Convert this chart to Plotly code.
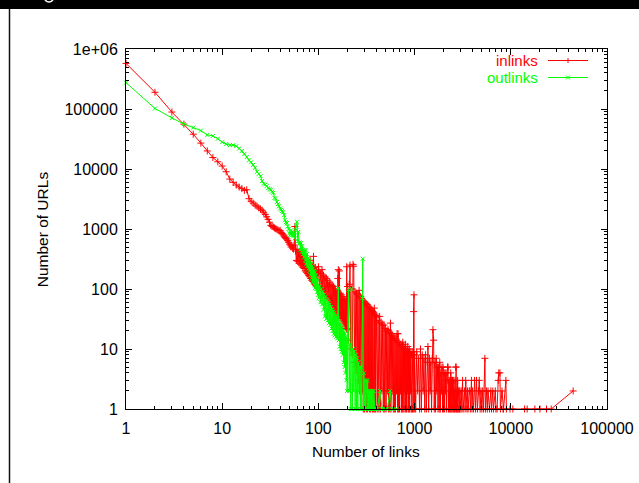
import plotly.graph_objects as go

# ---------------- data ----------------
# inlinks: number of URLs having a given number of inlinks
in_x_a = list(range(1, 101))
in_y_a = [575000, 190000, 89000, 56000, 38000, 27000, 20000, 15500, 13200, 11200,
          9000, 6800, 6000, 5400, 5000, 4700, 4400, 4500, 3200, 2900,
          2700, 2500, 2400, 2250, 2150, 2050, 1900, 1750, 1600, 1450,
          1300, 1150, 1100, 1080, 1040, 1010, 990, 960, 930, 950,
          880, 840, 800, 760, 720, 700, 680, 640, 600, 560,
          540, 500, 520, 480, 460, 540, 1100, 430, 300, 460,
          290, 400, 270, 420, 260, 380, 250, 350, 230, 330,
          220, 360, 200, 300, 190, 310, 180, 280, 170, 260,
          160, 300, 150, 240, 140, 250, 135, 220, 350, 130,
          210, 120, 230, 115, 200, 110, 190, 105, 180, 235]
in_x_b = list(range(101, 200, 2))
in_y_b = [200, 110, 180, 100, 210, 95, 170, 90, 160, 80,
          150, 75, 140, 110, 70, 130, 65, 120, 60, 115,
          55, 110, 50, 100, 45, 95, 42, 90, 40, 150,
          210, 38, 200, 36, 85, 34, 80, 32, 75, 30,
          70, 28, 68, 26, 65, 24, 62, 22, 235, 21]
in_x_c = list(range(201, 400, 4))
in_y_c = [110, 14, 120, 250, 10, 100, 8, 257, 240, 6,
          90, 5, 85, 4, 80, 3, 95, 2, 75, 3,
          70, 2, 65, 1, 62, 1, 60, 2, 57, 1,
          55, 1, 52, 2, 50, 1, 48, 1, 46, 2,
          44, 1, 42, 1, 40, 48, 1, 38, 1, 36]
in_x_d = list(range(401, 1000, 8))
in_y_d = [34, 1, 30, 1, 35, 1, 28, 2, 26, 1,
          25, 1, 22, 1, 20, 2, 21, 1, 19, 1,
          27, 1, 18, 2, 17, 1, 16, 1, 15, 1,
          14, 2, 18, 1, 18, 1, 13, 1, 12, 2,
          12, 1, 11, 1, 13, 1, 11, 2, 10, 1,
          12, 1, 10, 1, 9, 2, 11, 1, 9, 1,
          10, 1, 8, 2, 9, 1, 8, 1, 9, 1,
          8, 1, 42, 80, 1]
in_x_e = list(range(1001, 3000, 25))
in_y_e = [8, 1, 9, 2, 7, 1, 10, 1, 8, 2,
          7, 1, 8, 1, 6, 11, 1, 7, 2, 6,
          1, 7, 21, 14, 1, 6, 1, 7, 2, 5,
          1, 5, 1, 6, 1, 4, 2, 5, 1, 5,
          1, 4, 1, 4, 2, 4, 1, 3, 5, 5,
          1, 3, 1, 3, 1, 4, 1, 3, 1, 3,
          1, 3, 1, 2, 1, 3, 1, 5, 5, 1,
          2, 1, 3, 1, 2, 1, 2, 1, 2, 1]
in_x_f = [3050, 3100, 3150, 3200, 3300, 3350, 3400, 3500, 3550, 3600,
          3700, 3760, 3800, 3900, 3950, 4000, 4100, 4200, 4300, 4400,
          4500, 4600, 4700, 4800, 4900, 5000, 5100, 5200, 5380, 5450,
          5600, 5700, 5800, 6000, 6200, 6300, 6500, 6600, 6900, 7000,
          7200, 7400, 7500, 7710, 7800, 8100, 8300, 8400, 8890, 9000,
          9800, 10500, 13900, 14800, 17800, 20100, 23500, 26300, 44500]
in_y_f = [2, 1, 3, 1, 2, 1, 3, 1, 2, 1,
          2, 2, 1, 3, 1, 2, 1, 3, 1, 3,
          1, 2, 3, 1, 2, 1, 2, 1, 7, 1,
          2, 1, 2, 1, 2, 1, 2, 1, 2, 1,
          1, 3, 4, 4, 1, 2, 1, 1, 3, 1,
          1, 1, 1, 1, 1, 1, 1, 1, 2]

# outlinks: number of URLs having a given number of outlinks
out_x_a = list(range(1, 101))
out_y_a = [275000, 102000, 71000, 56000, 49000, 43600, 37000, 35500, 32000, 28000,
           26000, 25000, 25000, 24000, 22000, 20000, 17800, 15800, 14000, 13000,
           11700, 10500, 9000, 8300, 7600, 6300, 5700, 5500, 5200, 4800,
           4600, 4500, 4200, 4000, 3300, 3200, 2800, 2600, 2400, 2200,
           2100, 2000, 1900, 1700, 1400, 1300, 1250, 1100, 1000, 850,
           800, 950, 780, 900, 760, 870, 700, 950, 1100, 1320,
           620, 900, 560, 600, 450, 580, 420, 520, 380, 450,
           340, 440, 300, 440, 260, 380, 240, 330, 220, 300,
           200, 290, 170, 260, 150, 240, 130, 220, 140, 200,
           115, 190, 105, 170, 100, 150, 90, 140, 80, 120]
out_x_b = list(range(101, 200, 2))
out_y_b = [70, 110, 60, 100, 55, 90, 45, 80, 35, 75,
           32, 65, 30, 60, 27, 55, 25, 50, 22, 45,
           20, 42, 18, 40, 17, 36, 16, 34, 15, 32,
           105, 14, 28, 11, 26, 10, 24, 9, 22, 8,
           20, 6, 19, 5, 18, 4, 16, 3, 15, 2]
out_x_c = list(range(201, 400, 4))
out_y_c = [14, 98, 2, 12, 1, 100, 1, 10, 2, 9,
           1, 8, 1, 7, 1, 6, 2, 5, 1, 5,
           1, 70, 320, 1, 4, 1, 3, 1, 3, 2,
           1, 3, 1, 2, 1, 2, 1, 2, 1, 2,
           1, 2, 1, 1, 2, 1, 1, 1, 1, 1]
out_x_d = [410, 437, 460, 480, 500, 520, 557, 580, 600, 650]
out_y_d = [1, 2, 1, 1, 1, 1, 2, 1, 1, 1]

x_tick_vals = [1, 10, 100, 1000, 10000, 100000]
x_tick_text = ["1", "10", "100", "1000", "10000", "100000"]
y_tick_vals = [1, 10, 100, 1000, 10000, 100000, 1000000]
y_tick_text = ["1", "10", "100", "1000", "10000", "100000", "1e+06"]

series_names = ["inlinks", "outlinks"]
series_colors = ["#ff0000", "#00ff00"]
x_title = "Number of links"
y_title = "Number of URLs"

in_x = in_x_a + in_x_b + in_x_c + in_x_d + in_x_e + in_x_f
in_y = in_y_a + in_y_b + in_y_c + in_y_d + in_y_e + in_y_f
out_x = out_x_a + out_x_b + out_x_c + out_x_d
out_y = out_y_a + out_y_b + out_y_c + out_y_d

# ---------------- layout geometry (pixels) ----------------
W, H = 639, 483
L, R, T, B = 126, 607, 49, 409
FONT = "Liberation Sans, Arial, Helvetica, sans-serif"
FS_TICK = 16
FS = 15.5
FS_LEG = 15
LEG_Y = [60.5, 77.5]


def px(xp):
    return (xp - L) / (R - L)


def py(yp):
    return (B - yp) / (B - T)


fig = go.Figure()
fig.add_trace(go.Scatter(
    x=in_x, y=in_y, mode="lines+markers", name=series_names[0],
    line=dict(color=series_colors[0], width=1),
    marker=dict(symbol="cross-thin", size=5, line=dict(color=series_colors[0], width=1)),
    cliponaxis=False, showlegend=False))
fig.add_trace(go.Scatter(
    x=out_x, y=out_y, mode="lines+markers", name=series_names[1],
    line=dict(color=series_colors[1], width=1),
    marker=dict(symbol="x-thin", size=4, line=dict(color=series_colors[1], width=1)),
    cliponaxis=False, showlegend=False))

axis_common = dict(
    type="log", showgrid=False, zeroline=False, automargin=False,
    showline=True, linecolor="#000000", linewidth=1, mirror="ticks",
    ticks="inside", ticklen=6, tickcolor="#000000", tickwidth=1,
    tickfont=dict(family=FONT, size=FS_TICK, color="#000000"),
    minor=dict(ticks="inside", ticklen=3, tickcolor="#000000", dtick="D1", showgrid=False),
)
fig.update_xaxes(range=[0, 5], tickmode="array", tickvals=x_tick_vals,
                 ticktext=x_tick_text, ticklabelstandoff=5, **axis_common)
fig.update_yaxes(range=[0, 6], tickmode="array", tickvals=y_tick_vals,
                 ticktext=y_tick_text, ticklabelstandoff=4, **axis_common)

annotations = [
    dict(text=x_title, x=px(366.3), y=py(451), xref="paper", yref="paper",
         xanchor="center", yanchor="middle", showarrow=False,
         font=dict(family=FONT, size=FS, color="#000000")),
    dict(text=y_title, x=px(42), y=py(229.3), xref="paper", yref="paper",
         xanchor="center", yanchor="middle", showarrow=False, textangle=-90,
         font=dict(family=FONT, size=FS, color="#000000")),
    dict(text=series_names[0], x=px(539), y=py(LEG_Y[0]), xref="paper", yref="paper",
         xanchor="right", yanchor="middle", showarrow=False, borderpad=0,
         font=dict(family=FONT, size=FS_LEG, color=series_colors[0])),
    dict(text=series_names[1], x=px(539), y=py(LEG_Y[1]), xref="paper", yref="paper",
         xanchor="right", yanchor="middle", showarrow=False, borderpad=0,
         font=dict(family=FONT, size=FS_LEG, color=series_colors[1])),
]

glyph_tail = "M {:.5f},{:.5f} Q {:.5f},{:.5f} {:.5f},{:.5f}".format(
    px(45), py(0), px(49), py(4), px(53), py(0))

shapes = [
    # window frame: black bar on top and dark line on the left
    dict(type="rect", xref="paper", yref="paper", x0=px(0), x1=px(W), y0=py(9), y1=py(-2),
         fillcolor="#000000", line=dict(width=0), layer="below"),
    dict(type="path", xref="paper", yref="paper", path=glyph_tail,
         line=dict(color="#ffffff", width=1.5)),
    dict(type="line", xref="paper", yref="paper", x0=px(9.5), x1=px(9.5), y0=py(9), y1=py(H + 2),
         line=dict(color="#111111", width=1.5)),
    # legend samples
    dict(type="line", xref="paper", yref="paper", x0=px(548), x1=px(588),
         y0=py(LEG_Y[0]), y1=py(LEG_Y[0]), line=dict(color=series_colors[0], width=1)),
    dict(type="line", xref="paper", yref="paper", x0=px(568), x1=px(568),
         y0=py(LEG_Y[0] - 2.5), y1=py(LEG_Y[0] + 2.5), line=dict(color=series_colors[0], width=1)),
    dict(type="line", xref="paper", yref="paper", x0=px(548), x1=px(588),
         y0=py(LEG_Y[1]), y1=py(LEG_Y[1]), line=dict(color=series_colors[1], width=1)),
    dict(type="line", xref="paper", yref="paper", x0=px(566), x1=px(570),
         y0=py(LEG_Y[1] - 2), y1=py(LEG_Y[1] + 2), line=dict(color=series_colors[1], width=1)),
    dict(type="line", xref="paper", yref="paper", x0=px(566), x1=px(570),
         y0=py(LEG_Y[1] + 2), y1=py(LEG_Y[1] - 2), line=dict(color=series_colors[1], width=1)),
]

fig.update_layout(
    width=W, height=H, autosize=False,
    margin=dict(l=L, r=W - R, t=T, b=H - B, pad=0),
    paper_bgcolor="#ffffff", plot_bgcolor="#ffffff",
    showlegend=False, annotations=annotations, shapes=shapes,
    font=dict(family=FONT, size=FS, color="#000000"),
)

fig.write_html("out.html")
